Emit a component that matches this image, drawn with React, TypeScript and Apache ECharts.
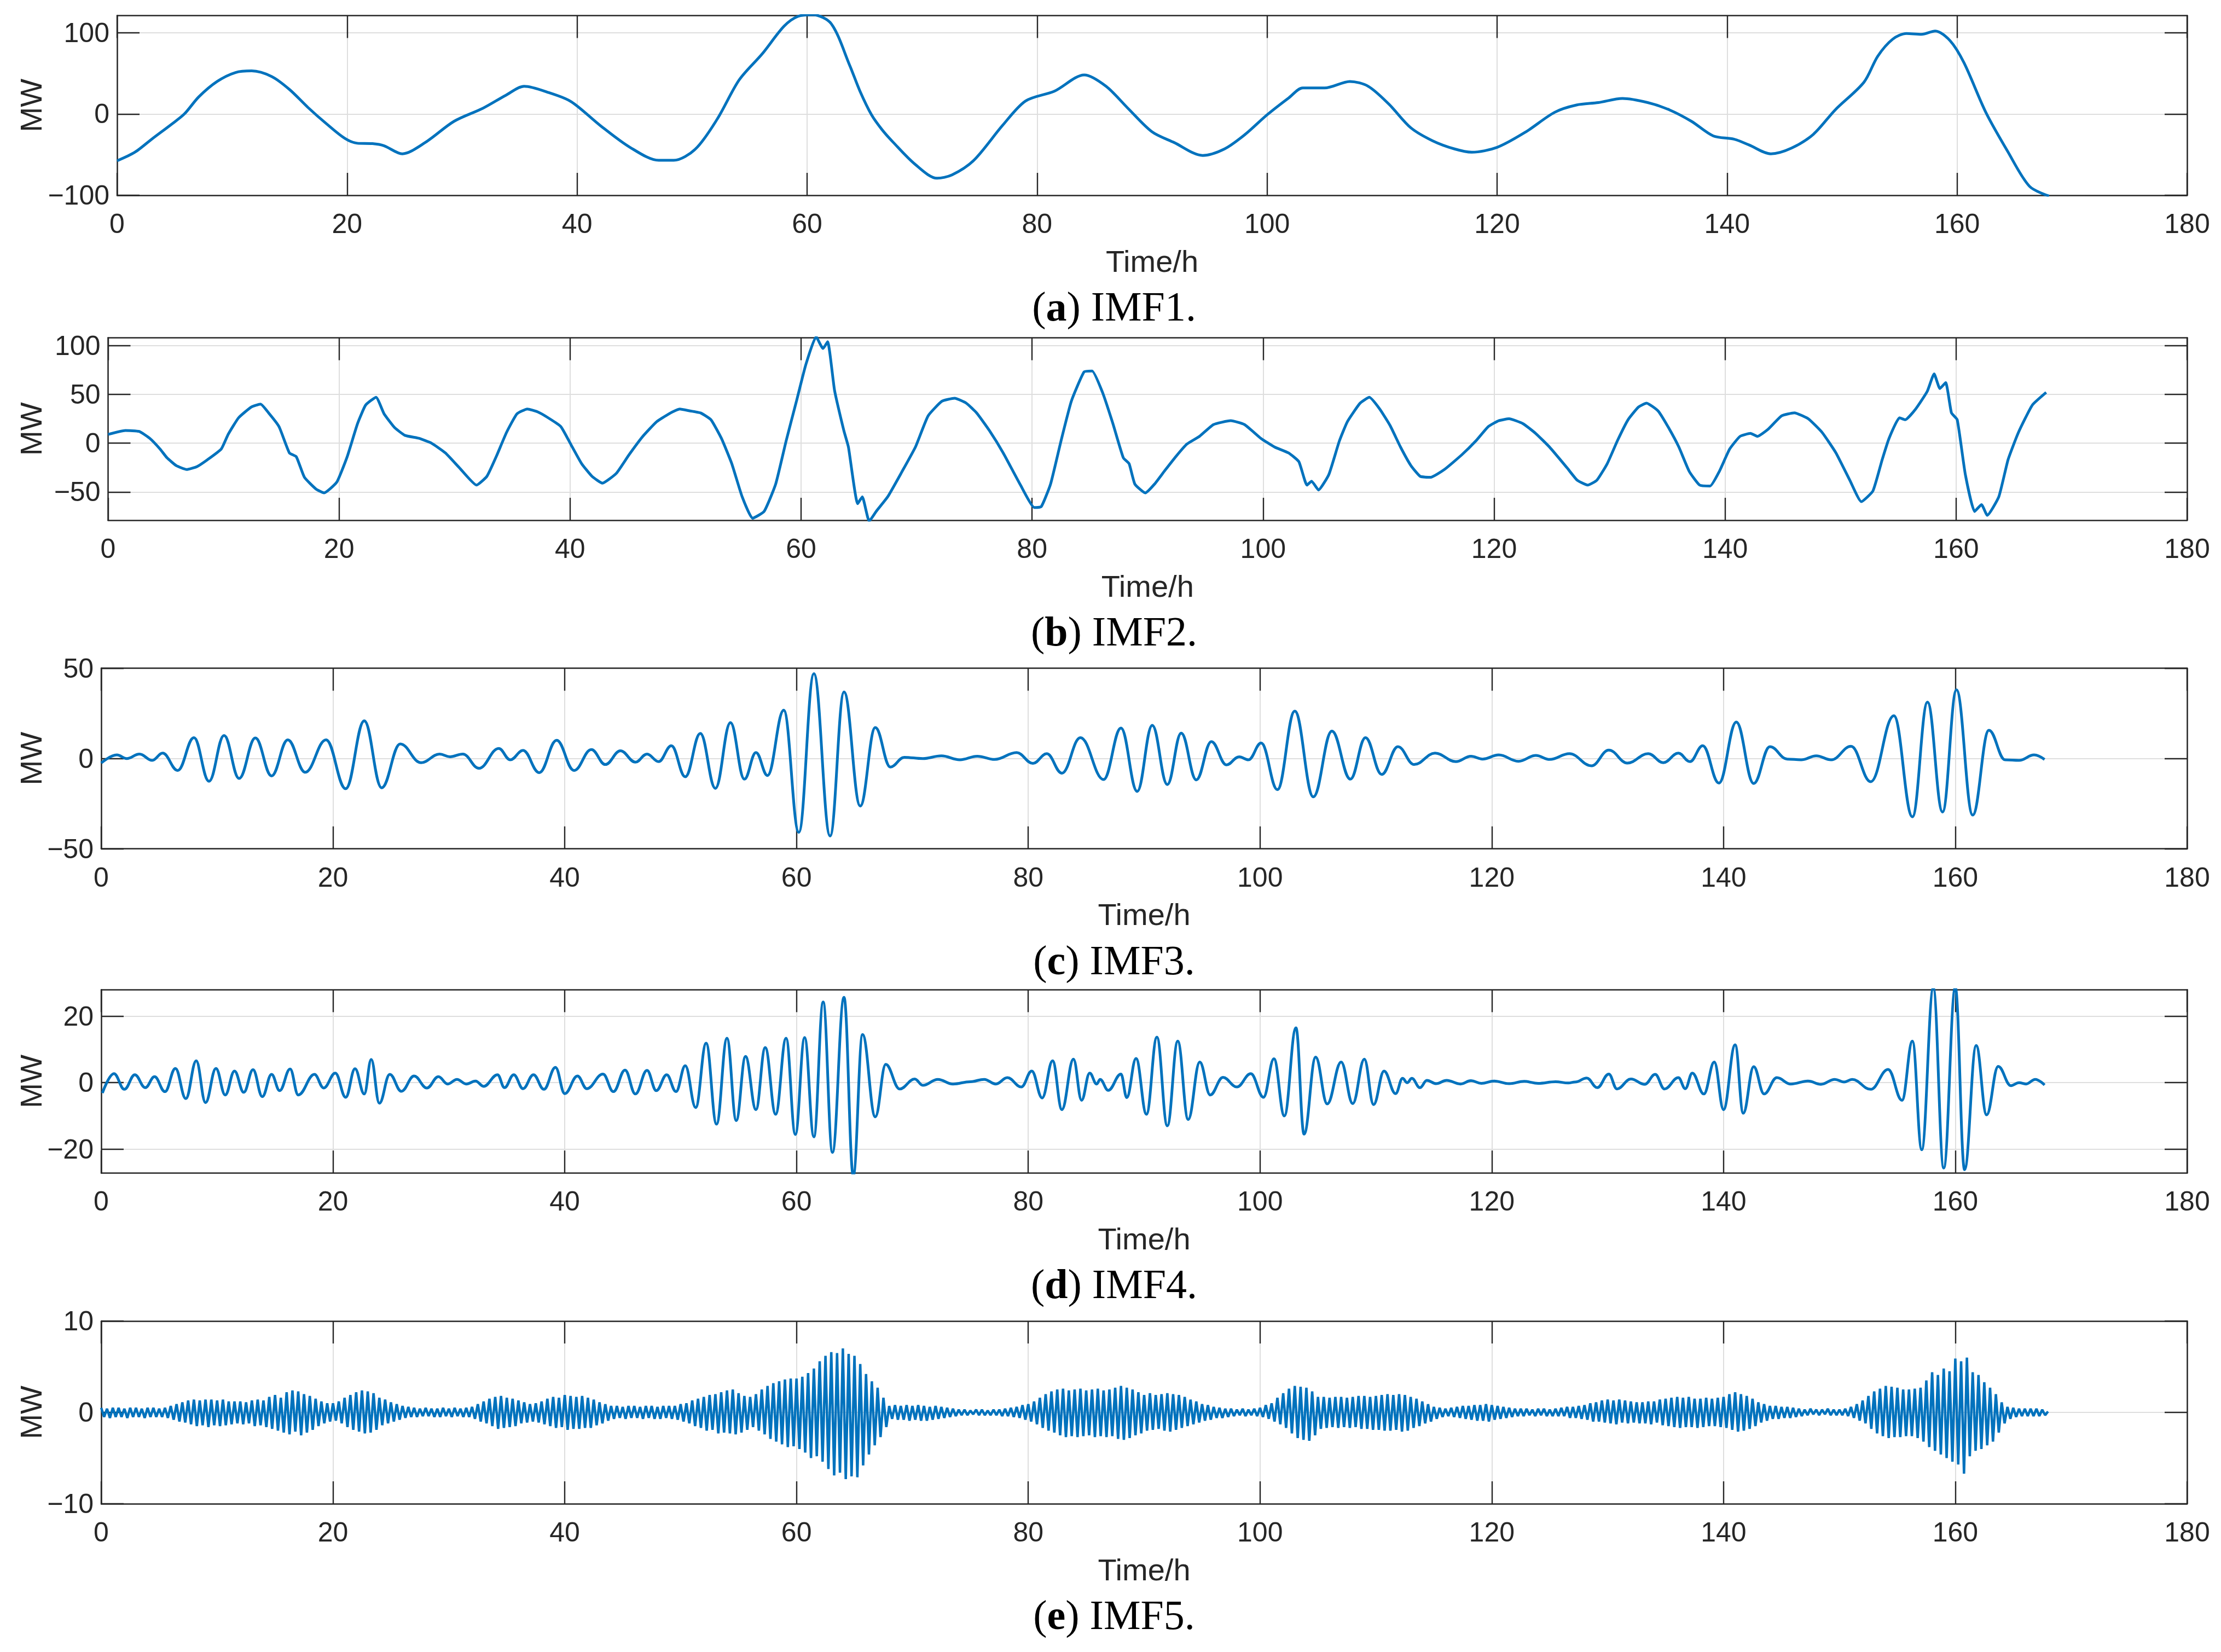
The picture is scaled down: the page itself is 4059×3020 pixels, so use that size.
import React, { useEffect, useRef } from 'react';
import * as echarts from 'echarts';

// ---------------- data ----------------
const timeTicks = [0, 20, 40, 60, 80, 100, 120, 140, 160, 180];

const imf1: [number, number][] = [
  [0, -57.6], [1.55, -47], [3.1, -30], [4.7, -13], [5.85, 0], [7.1, 21], [8.7, 40], [10.3, 51], [11.7, 53], [13.45, 46],
  [15, 30], [16.6, 8], [18.2, -12], [19.8, -30], [20.9, -36], [22.2, -36.5], [23.2, -39], [24.8, -49], [26.8, -35], [29.3, -9],
  [31.8, 7], [33.8, 23], [35.4, 34], [37.6, 26], [39.5, 15], [42, -14], [44.6, -41], [47.1, -57], [48.4, -57], [50.3, -43],
  [52.2, -6], [54.1, 42], [56.1, 74], [58, 108], [59.2, 120], [60.5, 122], [62.1, 111], [63.7, 60], [64.6, 28], [65.6, -1],
  [66.5, -19], [67.5, -35], [69.4, -62], [71.3, -79], [72.6, -75], [74.5, -57], [77, -14], [79, 16], [81.5, 28], [84.1, 48],
  [86, 34], [87.9, 7], [90, -22], [91.9, -35], [94.4, -51], [96.3, -43], [98.1, -25], [100, -1], [101.9, 20], [103.1, 32],
  [105, 32], [107.2, 40], [108.8, 34], [110.6, 12], [112.5, -17], [114.4, -33], [116.3, -43], [117.8, -47], [120, -41], [122.5, -22],
  [125, 2], [126.9, 11], [128.8, 14], [130.9, 19], [133.1, 14], [135, 5], [136.9, -9], [138.8, -27], [140.6, -31], [141.9, -38],
  [143.8, -49], [145.6, -42], [147.5, -25], [149.4, 5], [151.9, 39], [153.1, 71], [154.4, 92], [155.6, 99], [156.9, 98], [158.1, 102],
  [159.4, 90], [160.6, 63], [162.5, 2], [164.4, -46], [166.3, -89], [168, -101],
];

const imf2: [number, number][] = [
  [0, 9], [1.5, 13], [2.7, 12], [3.6, 5], [4.5, -6], [5.1, -15], [5.9, -23], [6.8, -27], [7.7, -24], [8.6, -17],
  [9.8, -6], [10.4, 9], [11.3, 26], [12.4, 37], [13.2, 40], [13.9, 31], [14.8, 17], [15.7, -10], [16.3, -14], [17, -35],
  [18, -47], [18.7, -51], [19.8, -40], [20.7, -14], [21.6, 20], [22.3, 39], [23.2, 47], [23.9, 30], [24.8, 16], [25.7, 8],
  [26.9, 5], [28, 0], [29.2, -10], [30.4, -25], [31.9, -43], [32.8, -34], [33.6, -14], [34.5, 11], [35.4, 30], [36.3, 35],
  [37.2, 32], [38.1, 26], [39.2, 17], [40.1, -2], [41, -21], [41.9, -34], [42.8, -41], [44, -31], [45.1, -12], [46.3, 7],
  [47.5, 22], [48.7, 31], [49.5, 35], [50.4, 33], [51.3, 31], [52.2, 24], [53.1, 5], [54, -21], [54.9, -55], [55.8, -77],
  [56.8, -70], [57.8, -42], [58.7, 2], [59.6, 43], [60.4, 80], [61.3, 109], [61.9, 97], [62.3, 104], [62.9, 54], [63.7, 13],
  [64.1, -4], [64.9, -62], [65.3, -55], [65.9, -80], [66.5, -70], [67.5, -55], [68.7, -30], [69.9, -4], [71, 28], [72.2, 43],
  [73.3, 46], [74.3, 41], [75.2, 31], [76.3, 13], [77.5, -10], [79, -43], [80.2, -66], [80.8, -65], [81.6, -42], [82.5, 2],
  [83.4, 43], [84.5, 73], [85.2, 74], [86.1, 52], [87, 20], [87.9, -15], [88.4, -21], [88.9, -42], [89.8, -51], [90.6, -42],
  [91.5, -28], [92.5, -13], [93.4, -1], [94.5, 7], [95.7, 19], [97.2, 23], [98.4, 19], [99.8, 5], [101, -4], [102.2, -10],
  [103.1, -19], [103.8, -43], [104.2, -39], [104.8, -48], [105.7, -32], [106.6, 2], [107.3, 22], [108.4, 41], [109.2, 47], [110.1, 35],
  [111, 18], [111.9, -4], [112.8, -23], [113.6, -34], [114.5, -35], [115.7, -27], [117.2, -12], [118.4, 2], [119.5, 17], [120.4, 23],
  [121.3, 25], [122.5, 20], [123.6, 10], [124.8, -4], [126.3, -25], [127.2, -38], [128.1, -43], [128.9, -38], [129.8, -21], [130.7, 3],
  [131.6, 24], [132.5, 37], [133.2, 41], [134.2, 33], [135.1, 16], [136, -4], [136.9, -29], [137.8, -43], [138.7, -44], [139.5, -29],
  [140.4, -6], [141.3, 7], [142.2, 10], [142.8, 7], [143.7, 14], [144.9, 28], [146, 31], [147.2, 25], [148.4, 11], [149.6, -10],
  [150.8, -38], [151.8, -60], [152.8, -49], [153.6, -17], [154.2, 5], [155.1, 26], [155.6, 24], [156.5, 35], [157.5, 53], [158.1, 71],
  [158.6, 56], [159.1, 62], [159.6, 31], [160.1, 24], [160.8, -32], [161.6, -70], [162.2, -63], [162.7, -74], [163.7, -55], [164.5, -17],
  [165.4, 11], [166.6, 39], [167.8, 52],
];

// IMF3: local extrema
const imf3: [number, number][] = [
  [0, -2.5], [1.35, 2], [2.2, 0], [3.3, 2.5], [4.4, -1], [5.3, 3], [6.6, -6.6], [8, 11.6], [9.3, -12.6], [10.6, 12.8],
  [11.9, -11], [13.3, 11.4], [14.7, -9.6], [16.1, 10.4], [17.6, -7.6], [19.4, 10.4], [21.1, -16.7], [22.7, 20.9], [24.2, -16.2], [25.8, 8.1],
  [27.6, -2.3], [29.2, 2.5], [30.1, 1], [31.2, 2.5], [32.6, -5.4], [34.3, 5.6], [35.3, -0.7], [36.4, 4.5], [37.8, -7.8], [39.3, 10.1],
  [40.8, -6.6], [42.3, 5], [43.5, -3.3], [44.8, 4.3], [46.1, -2], [47.1, 2.5], [48.1, -1.7], [49.2, 7.1], [50.4, -10.1], [51.7, 13.9],
  [53, -16.5], [54.3, 19.9], [55.5, -11.4], [56.5, 3.3], [57.5, -9.4], [58.9, 26.8], [60.2, -40.9], [61.5, 47], [62.9, -42.9], [64.1, 36.9],
  [65.5, -26.3], [66.8, 17.2], [68.1, -4.7], [69.3, 0.7], [70.9, 0], [72.5, 1.5], [74.1, -0.7], [75.6, 1.3], [77.1, -0.5], [79, 3.3],
  [80.4, -2.7], [81.6, 2.7], [82.9, -8.1], [84.5, 11.6], [86.5, -11.6], [88, 16.9], [89.4, -18.2], [90.7, 18.4], [92, -14.4], [93.2, 14.1],
  [94.5, -11.8], [95.8, 9.4], [97.1, -3.5], [98.2, 1], [99, -0.7], [100.1, 8.6], [101.5, -17.2], [103, 26.3], [104.6, -21.2], [106.2, 15.2],
  [107.8, -11.4], [109.1, 11.6], [110.5, -8.8], [111.9, 6.6], [113.3, -3.3], [115.1, 3], [116.9, -1.7], [118.2, 1.3], [119.2, -0.3], [120.6, 2],
  [122.3, -1.5], [123.8, 1.7], [125, -0.5], [126.7, 2.7], [128.6, -4], [130.1, 4.7], [131.7, -2.5], [133.5, 2.7], [134.8, -2.3], [136.1, 3],
  [137.1, -1.7], [138.2, 7.1], [139.6, -13.6], [141.1, 20.2], [142.6, -13.8], [144, 6.6], [145.5, -0.3], [146.7, -0.7], [148, 1.5], [149.3, -0.7],
  [151, 6.8], [152.7, -12.8], [154.7, 23.7], [156.3, -32.3], [157.6, 31.3], [158.9, -29.6], [160.1, 38.1], [161.5, -31.3], [162.9, 15.7], [164.3, -0.7],
  [165.5, -1], [166.8, 2], [167.7, -0.5],
];

// IMF4: local extrema
const imf4: [number, number][] = [
  [0.1, -3.1], [1.1, 2.7], [2, -2], [2.9, 2.4], [3.8, -1.5], [4.6, 1.8], [5.5, -2.7], [6.4, 4.3], [7.3, -4.8], [8.2, 6.6],
  [9, -6], [9.9, 4.3], [10.7, -3.7], [11.5, 3.5], [12.3, -2.9], [13.1, 3.9], [13.9, -4.2], [14.7, 2.5], [15.4, -2.4], [16.3, 4.1],
  [17, -3.7], [18.4, 2.5], [19.2, -1.6], [20.2, 2.9], [21.1, -4.4], [21.9, 4.2], [22.7, -3.4], [23.3, 7], [24, -6.2], [24.9, 2.5],
  [25.9, -2.6], [27, 2], [28.1, -1.6], [29.1, 1.8], [29.9, -0.4], [30.7, 1], [31.5, -0.4], [32.3, 0.5], [33, -1.1], [34.2, 2.4],
  [34.8, -1.5], [35.6, 2.4], [36.4, -1.8], [37.3, 2.4], [38.2, -2], [39.2, 4.6], [40, -3.3], [41.1, 2], [41.9, -1.8], [43.3, 2.6],
  [44.2, -2.7], [45.2, 3.8], [46.1, -3.4], [47.1, 3.7], [47.9, -2.4], [48.8, 2.4], [49.6, -2.7], [50.4, 5.1], [51.3, -7.5], [52.2, 11.9],
  [53.1, -12.5], [54, 13.4], [54.8, -11.4], [55.6, 7.9], [56.5, -8.1], [57.3, 10.6], [58.2, -9.5], [59.1, 13.4], [59.9, -15.6], [60.7, 13.6],
  [61.5, -16.3], [62.3, 24.3], [63.1, -21], [64.1, 25.7], [64.9, -28], [65.7, 14.5], [66.8, -10.3], [67.7, 5.5], [68.9, -1.9], [70.2, 1.1],
  [70.9, -0.8], [72.2, 1], [73.5, -0.4], [75, 0.3], [76.2, 1], [77.2, -0.4], [78.2, 1.5], [79.4, -1.3], [80.3, 3.5], [81.2, -4.6],
  [82.1, 6.6], [82.9, -8.1], [83.9, 7.1], [84.6, -5.3], [85.3, 2.9], [85.9, -0.4], [86.2, 1], [86.9, -2.3], [88, 2.6], [88.5, -4.5],
  [89.3, 7.3], [90.2, -9.5], [91.1, 13.7], [92, -13], [92.9, 12.5], [93.8, -11.1], [94.8, 6.2], [95.7, -3.7], [96.8, 1.6], [98, -1.3],
  [99.2, 2.7], [100.3, -4.4], [101.2, 7.2], [102.1, -10], [103.1, 16.5], [103.8, -15.5], [104.8, 7.7], [105.8, -6.4], [107, 6.2], [108, -6.3],
  [109, 7.1], [109.8, -6.6], [110.7, 3.5], [111.7, -3.3], [112.3, 1.3], [112.7, 0], [113.1, 1.3], [113.8, -1.5], [114.4, 0.7], [115.2, -0.3],
  [116.1, 0.7], [117.3, -0.4], [118.2, 0.6], [119.1, -0.2], [120.2, 0.5], [121.5, -0.3], [122.8, 0.4], [124, -0.2], [125.5, 0.3], [126.6, -0.1],
  [127.2, 0.2], [128.2, 1.4], [129.1, -1.5], [130.1, 2.6], [130.8, -1.9], [132, 1.1], [133.2, -0.5], [134.1, 2.5], [134.9, -1.9], [136.1, 1.5],
  [136.7, -1.8], [137.3, 2.9], [138.3, -3.4], [139.2, 6.2], [140, -8.1], [141, 11.4], [141.7, -9.2], [142.6, 4.8], [143.5, -3.4], [144.6, 1.5],
  [145.8, -0.4], [147.3, 0.5], [148.4, -0.5], [149.6, 1], [150.4, 0.2], [151.1, 1], [152.7, -2], [154.2, 4], [155.4, -5.3], [156.3, 12.5],
  [157.1, -20.2], [158.1, 28.5], [159, -25.7], [160, 28.7], [160.8, -26.2], [161.8, 11.2], [162.7, -9.7], [163.7, 4.9], [164.8, -0.9], [165.5, 0],
  [166.1, -0.4], [166.9, 1], [167.7, -0.7],
];

// IMF5: peaks every half hour (t = 0, 0.5, ..., 168)
const imf5Peaks = [
  0.5, 0.4, 0.5, 0.5, 0.4, 0.5, 0.5, 0.4, 0.5, 0.5,
  0.4, 0.5, 0.7, 0.9, 1.1, 1.3, 1.4, 1.3, 1.4, 1.4,
  1.3, 1.4, 1.2, 1.2, 1.2, 1.1, 1.3, 1.4, 1.3, 1.7,
  1.9, 1.6, 2.2, 2.4, 2.3, 2.0, 1.8, 1.5, 1.2, 1.0,
  1.0, 1.2, 1.6, 1.9, 2.2, 2.4, 2.3, 2.1, 1.6, 1.4,
  1.1, 0.9, 0.7, 0.6, 0.5, 0.4, 0.5, 0.4, 0.4, 0.5,
  0.4, 0.5, 0.4, 0.5, 0.6, 0.9, 1.2, 1.5, 1.7, 1.8,
  1.6, 1.5, 1.3, 1.1, 0.9, 1.0, 1.2, 1.5, 1.7, 1.6,
  1.9, 1.8, 1.7, 1.8, 1.6, 1.4, 1.1, 0.9, 0.7, 0.7,
  0.6, 0.7, 0.7, 0.6, 0.7, 0.7, 0.6, 0.7, 0.7, 0.7,
  0.9, 1.0, 1.3, 1.5, 1.7, 1.9, 2.0, 2.2, 2.4, 2.5,
  2.1, 1.8, 1.7, 2.0, 2.5, 2.9, 3.2, 3.4, 3.6, 3.7,
  3.7, 3.9, 4.3, 4.8, 5.6, 6.2, 6.6, 6.5, 7.0, 6.4,
  6.2, 5.3, 4.2, 3.4, 2.7, 1.6, 0.7, 0.8, 0.7, 0.8,
  0.7, 0.8, 0.7, 0.6, 0.7, 0.6, 0.5, 0.4, 0.3, 0.3,
  0.2, 0.3, 0.3, 0.2, 0.3, 0.3, 0.4, 0.5, 0.6, 0.8,
  0.9, 1.2, 1.6, 2.0, 2.3, 2.5, 2.6, 2.4, 2.5, 2.6,
  2.4, 2.5, 2.6, 2.4, 2.5, 2.7, 2.9, 2.7, 2.5, 2.2,
  1.9, 2.1, 1.9, 2.0, 2.1, 2.0, 1.9, 1.7, 1.4, 1.2,
  0.9, 0.8, 0.6, 0.5, 0.4, 0.4, 0.3, 0.4, 0.3, 0.4,
  0.5, 0.8, 1.0, 1.6, 2.1, 2.6, 2.9, 2.8, 2.7, 2.3,
  1.7, 1.7, 1.6, 1.7, 1.7, 1.6, 1.7, 1.8, 1.8, 1.7,
  1.8, 1.9, 2.0, 1.9, 2.0, 1.9, 1.7, 1.5, 1.2, 0.9,
  0.6, 0.5, 0.4, 0.5, 0.6, 0.7, 0.7, 0.8, 0.8, 0.9,
  0.8, 0.7, 0.6, 0.5, 0.4, 0.4, 0.4, 0.3, 0.4, 0.4,
  0.3, 0.4, 0.5, 0.6, 0.6, 0.7, 0.8, 1.0, 1.1, 1.3,
  1.4, 1.3, 1.4, 1.3, 1.2, 1.1, 1.1, 1.2, 1.2, 1.4,
  1.5, 1.6, 1.7, 1.6, 1.7, 1.5, 1.5, 1.6, 1.5, 1.6,
  1.7, 2.0, 2.2, 2.0, 1.8, 1.5, 1.1, 0.9, 0.7, 0.7,
  0.6, 0.6, 0.5, 0.4, 0.3, 0.4, 0.3, 0.3, 0.4, 0.3,
  0.3, 0.4, 0.6, 0.9, 1.3, 1.8, 2.3, 2.6, 2.9, 2.8,
  2.7, 2.5, 2.5, 2.6, 2.7, 3.5, 4.4, 4.1, 4.8, 4.5,
  5.9, 5.6, 6.0, 4.4, 4.1, 3.3, 2.7, 2.0, 1.1, 0.6,
  0.5, 0.4, 0.4, 0.4, 0.4, 0.3,
  0.1,
];

// IMF5: troughs every half hour (t = 0.25, 0.75, ..., 167.75)
const imf5Troughs = [
  -0.5, -0.6, -0.5, -0.5, -0.6, -0.5, -0.5, -0.6, -0.5, -0.5,
  -0.5, -0.6, -0.8, -1.0, -1.1, -1.3, -1.5, -1.4, -1.6, -1.4,
  -1.5, -1.4, -1.3, -1.2, -1.3, -1.2, -1.5, -1.4, -1.6, -1.8,
  -2.0, -2.2, -2.4, -2.1, -2.5, -2.2, -1.9, -1.5, -1.2, -1.0,
  -0.9, -1.2, -1.6, -1.9, -2.1, -2.3, -2.2, -1.9, -1.4, -1.2,
  -1.0, -0.8, -0.6, -0.5, -0.5, -0.4, -0.4, -0.5, -0.5, -0.4,
  -0.5, -0.4, -0.5, -0.5, -0.7, -1.0, -1.2, -1.5, -1.8, -1.7,
  -1.6, -1.5, -1.2, -1.1, -1.0, -1.1, -1.3, -1.5, -1.7, -1.6,
  -1.9, -1.8, -1.8, -1.7, -1.7, -1.4, -1.2, -0.9, -0.7, -0.6,
  -0.7, -0.6, -0.6, -0.7, -0.6, -0.7, -0.7, -0.6, -0.7, -0.8,
  -1.0, -1.2, -1.5, -1.7, -2.0, -1.9, -2.3, -2.2, -2.3, -2.4,
  -2.2, -1.9, -1.6, -2.0, -2.4, -2.9, -3.2, -3.5, -3.8, -3.7,
  -4.0, -4.4, -5.0, -4.8, -5.4, -6.2, -6.9, -6.6, -7.3, -7.0,
  -7.1, -5.8, -4.6, -3.6, -2.7, -1.6, -0.7, -0.8, -0.8, -0.9,
  -0.8, -0.9, -0.9, -0.8, -0.7, -0.6, -0.5, -0.4, -0.3, -0.3,
  -0.2, -0.3, -0.3, -0.3, -0.3, -0.4, -0.4, -0.5, -0.6, -0.8,
  -1.0, -1.3, -1.7, -2.0, -2.2, -2.5, -2.7, -2.6, -2.7, -2.6,
  -2.5, -2.7, -2.6, -2.7, -2.6, -2.9, -3.0, -2.8, -2.5, -2.3,
  -2.0, -1.9, -1.8, -2.0, -2.1, -1.9, -1.7, -1.5, -1.3, -1.1,
  -0.9, -0.8, -0.6, -0.6, -0.5, -0.4, -0.3, -0.4, -0.3, -0.4,
  -0.5, -0.7, -1.0, -1.3, -1.7, -2.3, -2.8, -3.0, -3.1, -2.5,
  -1.8, -1.7, -1.6, -1.7, -1.6, -1.7, -1.6, -1.8, -1.8, -1.9,
  -1.9, -2.0, -2.0, -1.9, -2.1, -2.0, -1.7, -1.5, -1.2, -1.0,
  -0.7, -0.5, -0.4, -0.5, -0.6, -0.7, -0.8, -0.9, -0.9, -1.0,
  -0.8, -0.7, -0.6, -0.5, -0.4, -0.4, -0.3, -0.4, -0.3, -0.4,
  -0.4, -0.4, -0.4, -0.6, -0.6, -0.7, -0.8, -1.0, -1.0, -1.1,
  -1.2, -1.3, -1.1, -1.2, -1.1, -1.2, -1.2, -1.3, -1.1, -1.4,
  -1.5, -1.6, -1.7, -1.6, -1.6, -1.7, -1.6, -1.5, -1.5, -1.6,
  -1.7, -1.9, -2.1, -2.0, -1.8, -1.5, -1.1, -0.9, -0.7, -0.7,
  -0.6, -0.6, -0.5, -0.4, -0.3, -0.2, -0.3, -0.2, -0.3, -0.3,
  -0.3, -0.4, -0.6, -0.9, -1.2, -1.8, -2.3, -2.6, -2.8, -2.7,
  -2.7, -2.6, -2.6, -2.8, -3.2, -3.8, -4.2, -4.6, -5.0, -5.4,
  -5.7, -6.7, -4.8, -4.2, -4.0, -3.6, -3.2, -2.2, -1.2, -0.7,
  -0.5, -0.4, -0.4, -0.4, -0.4, -0.3,
];

const imf5: [number, number][] = [];
imf5Troughs.forEach((low, k) => {
  imf5.push([k * 0.5, imf5Peaks[k]]);
  imf5.push([k * 0.5 + 0.25, low]);
});
imf5.push([imf5Troughs.length * 0.5, imf5Peaks[imf5Troughs.length]]);

const panelLetters = ['a', 'b', 'c', 'd', 'e'];
const panelNames = ['IMF1', 'IMF2', 'IMF3', 'IMF4', 'IMF5'];
const yTicksA = [-100, 0, 100];
const yTicksB = [-50, 0, 50, 100];
const yTicksC = [-50, 0, 50];
const yTicksD = [-20, 0, 20];
const yTicksE = [-10, 0, 10];

// ---------------- layout / style ----------------
const W = 4059;
const H = 3020;
const RIGHT = 3997;
const BLUE = '#0072BD';
const INK = '#262626';
const GRIDC = '#dedede';
const SANS = '"Liberation Sans", Arial, Helvetica, sans-serif';
const SERIF = '"Liberation Serif", "Times New Roman", serif';

const PANELS = [
  { data: imf1, yMin: -100, yMax: 121, yTicks: yTicksA, left: 214, top: 28.5, height: 328.5, smooth: 0.3 as number | boolean, mono: undefined as any, lw: 5 },
  { data: imf2, yMin: -79, yMax: 108, yTicks: yTicksB, left: 197.5, top: 617.5, height: 333.5, smooth: 0.15, mono: undefined, lw: 5 },
  { data: imf3, yMin: -50, yMax: 50, yTicks: yTicksC, left: 185, top: 1221.7, height: 330, smooth: 0.4, mono: 'x', lw: 5 },
  { data: imf4, yMin: -27.2, yMax: 28, yTicks: yTicksD, left: 185, top: 1809.3, height: 335, smooth: 0.4, mono: 'x', lw: 5 },
  { data: imf5, yMin: -10, yMax: 10, yTicks: yTicksE, left: 185, top: 2415, height: 334, smooth: false, mono: undefined, lw: 4.5 },
];

function buildOption() {
  const grid: any[] = [];
  const xAxis: any[] = [];
  const yAxis: any[] = [];
  const series: any[] = [];
  const graphic: any[] = [];

  PANELS.forEach((p, i) => {
    const width = RIGHT - p.left;
    const bottom = p.top + p.height;
    grid.push({ left: p.left, top: p.top, width, height: p.height, containLabel: false });

    const axisLine = { show: true, onZero: false, lineStyle: { color: INK, width: 2.5 } };
    const tickBase = { show: true, inside: true, length: 41, lineStyle: { color: INK, width: 2.4 } };
    const labelBase = { fontSize: 50, fontFamily: SANS, color: INK };

    xAxis.push({
      type: 'value', gridIndex: i, position: 'bottom', min: timeTicks[0], max: timeTicks[timeTicks.length - 1], interval: 20,
      axisLine, axisTick: tickBase,
      axisLabel: { ...labelBase, show: true, margin: 27 },
      splitLine: { show: true, lineStyle: { color: GRIDC, width: 2 } },
    });
    xAxis.push({
      type: 'value', gridIndex: i, position: 'top', min: timeTicks[0], max: timeTicks[timeTicks.length - 1], interval: 20,
      axisLine, axisTick: tickBase, axisLabel: { show: false }, splitLine: { show: false },
    });
    yAxis.push({
      type: 'value', gridIndex: i, position: 'left', min: p.yMin, max: p.yMax,
      axisLine, axisTick: { ...tickBase, customValues: p.yTicks },
      axisLabel: {
        ...labelBase, show: true, margin: 14, customValues: p.yTicks,
        formatter: (v: number) => String(v).replace('-', '\u2212'),
      },
      splitLine: { show: true, lineStyle: { color: GRIDC, width: 2 } },
    });
    yAxis.push({
      type: 'value', gridIndex: i, position: 'right', min: p.yMin, max: p.yMax,
      axisLine, axisTick: { ...tickBase, customValues: p.yTicks },
      axisLabel: { show: false }, splitLine: { show: false },
    });

    const s: any = {
      type: 'line', xAxisIndex: 2 * i, yAxisIndex: 2 * i, data: p.data,
      showSymbol: false, symbol: 'none', smooth: p.smooth,
      lineStyle: { color: BLUE, width: p.lw }, silent: true, clip: true, z: 3,
    };
    if (p.mono) s.smoothMonotone = p.mono;
    series.push(s);

    graphic.push({
      type: 'text', x: (p.left + RIGHT) / 2, y: bottom + 120, silent: true,
      style: { text: 'Time/h', font: `56px ${SANS}`, fill: INK, align: 'center', verticalAlign: 'middle' },
    });
    graphic.push({
      type: 'text', x: 57, y: p.top + p.height / 2, rotation: Math.PI / 2, silent: true,
      style: { text: 'MW', font: `55px ${SANS}`, fill: INK, align: 'center', verticalAlign: 'middle' },
    });
    graphic.push({
      type: 'text', x: 2036, y: bottom + 203, silent: true,
      style: {
        text: `{n|(}{b|${panelLetters[i]}}{n|) ${panelNames[i]}.}`,
        align: 'center', verticalAlign: 'middle',
        rich: {
          n: { fontSize: 76, fontFamily: SERIF, fill: '#000' },
          b: { fontSize: 76, fontFamily: SERIF, fontWeight: 'bold', fill: '#000' },
        },
      },
    });
  });

  return {
    animation: false,
    backgroundColor: '#ffffff',
    textStyle: { fontFamily: SANS },
    grid, xAxis, yAxis, series, graphic,
  };
}

export default function App() {
  const ref = useRef<HTMLDivElement>(null);
  useEffect(() => {
    if (!ref.current) return;
    const chart = echarts.init(ref.current, undefined, { renderer: 'svg', width: W, height: H });
    chart.setOption(buildOption() as any);
    return () => chart.dispose();
  }, []);
  return (
    <div
      ref={ref}
      style={{ position: 'fixed', left: 0, top: 0, width: W, height: H, background: '#fff' }}
    />
  );
}
